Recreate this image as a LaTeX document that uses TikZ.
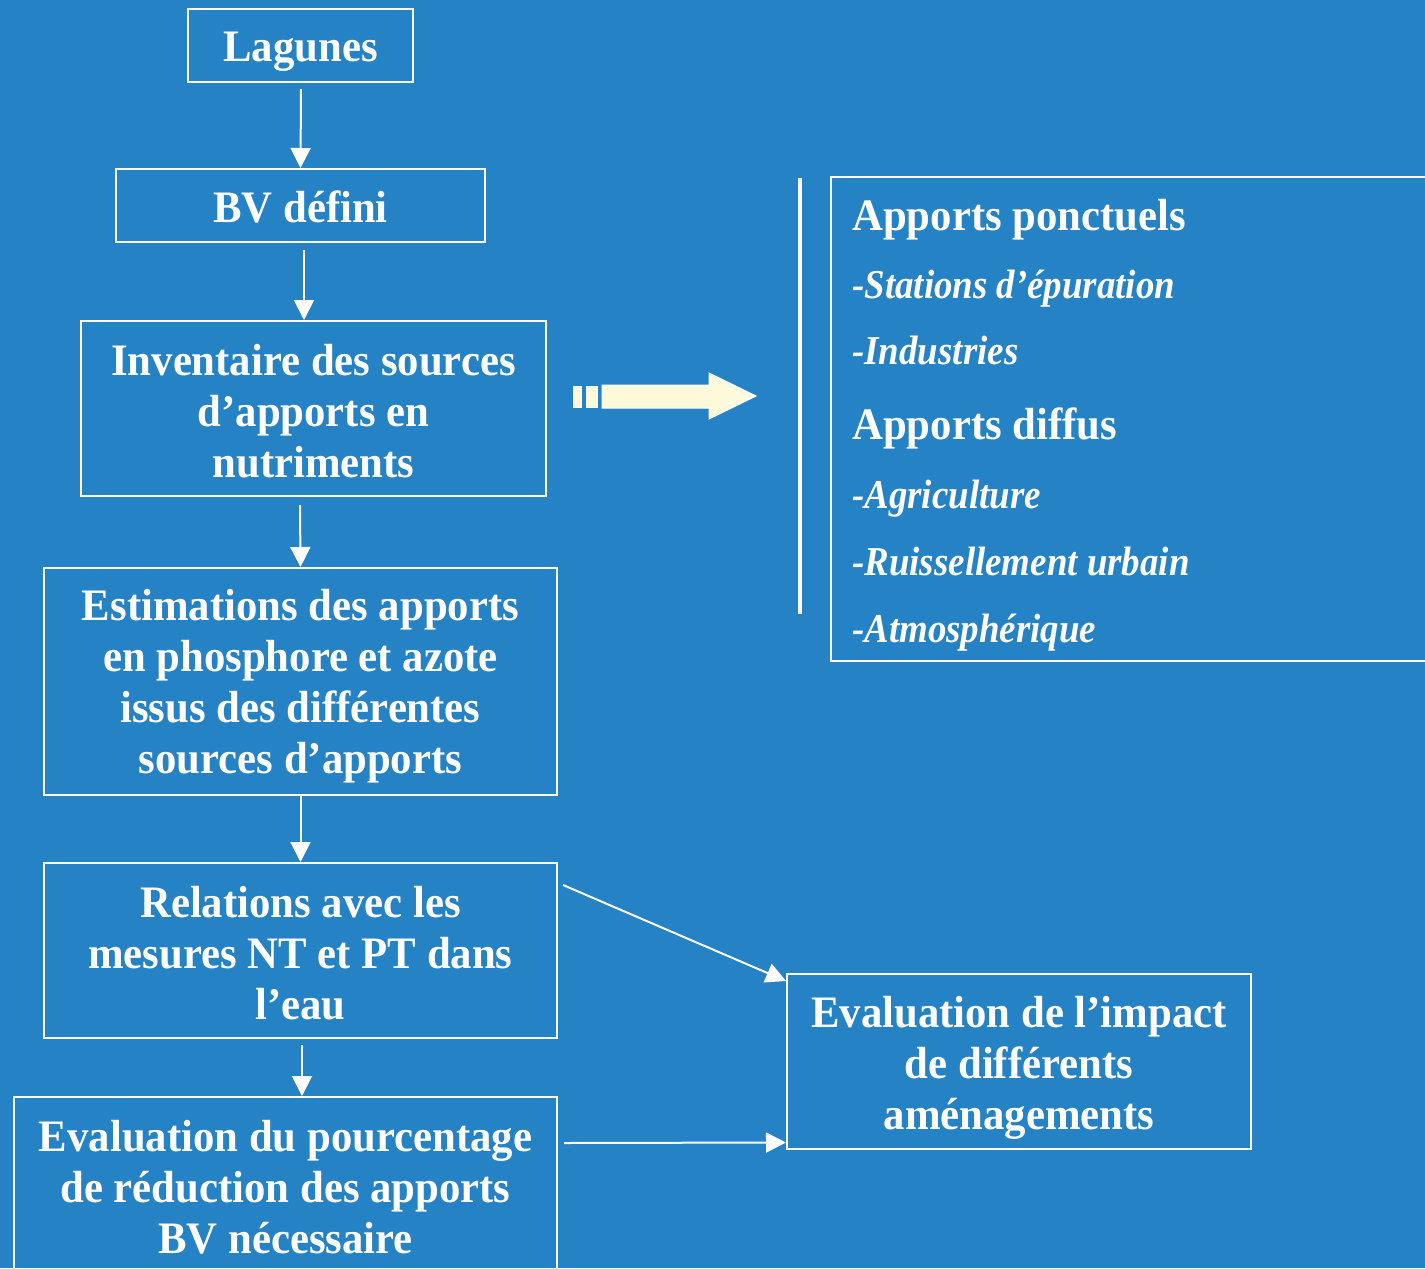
\documentclass[tikz,border=0pt]{standalone}
\usepackage{fontspec}
\setmainfont{Liberation Serif}[FakeStretch=0.95]
\newfontfamily\itemfont{Liberation Serif}[FakeStretch=0.9]
\usetikzlibrary{arrows.meta,calc}
\definecolor{bgblue}{RGB}{37,130,197}
\definecolor{cream}{RGB}{255,249,219}
\tikzset{
  box/.style={draw=white, line width=1.5pt, inner sep=0pt},
  lbl/.style={inner sep=0pt, align=center, text=white,
    font=\fontsize{33.75pt}{38.25pt}\selectfont\bfseries},
  conn/.style={draw=white, line width=1.5pt, -{Triangle[length=15pt,width=15pt]}},
  head/.style={anchor=base west, inner sep=0pt, text=white, font=\fontsize{33.75pt}{38pt}\selectfont\bfseries},
  item/.style={anchor=base west, inner sep=0pt, text=white, font=\itemfont\fontsize{30.75pt}{34pt}\selectfont\bfseries\itshape},
}
\begin{document}
\begin{tikzpicture}[x=0.75pt,y=-0.75pt]
\useasboundingbox (0,0) rectangle (1425,1268);
\clip (0,0) rectangle (1425,1268);
\fill[bgblue] (0,0) rectangle (1425,1268);

\node[box, minimum width=168.75pt, minimum height=54.75pt,
  label={[lbl,yshift=-4.5pt]center:Lagunes}] (lag) at (300.5,45.5) {};
\node[box, minimum width=276.75pt, minimum height=54.75pt,
  label={[lbl,yshift=-0.75pt]center:BV défini}] (bv) at (300.5,205.5) {};
\node[box, minimum width=348.75pt, minimum height=131.25pt,
  label={[lbl,yshift=-2.25pt]center:{Inventaire des sources\\d’apports en\\nutriments}}] (inv) at (313.5,408.5) {};
\node[box, minimum width=384.75pt, minimum height=170.25pt,
  label={[lbl,yshift=-3.75pt]center:{Estimations des apports\\en phosphore et azote\\issus des différentes\\sources d’apports}}] (est) at (300.5,681.5) {};
\node[box, minimum width=384.75pt, minimum height=131.25pt,
  label={[lbl,yshift=-2.25pt]center:{Relations avec les\\mesures NT et PT dans\\l’eau}}] (rel) at (300.5,950.5) {};
\node[box, minimum width=407.25pt, minimum height=132pt,
  label={[lbl,yshift=-1.5pt]center:{Evaluation du pourcentage\\de réduction des apports\\BV nécessaire}}] (eva) at (285.5,1185) {};
\node[box, minimum width=348pt, minimum height=131.25pt,
  label={[lbl,yshift=-4.5pt]center:{Evaluation de l’impact\\de différents\\aménagements}}] (imp) at (1019,1061.5) {};

% right box
\node[box, minimum width=456.75pt, minimum height=363pt] (src) at (1135.5,419) {};
\node[head] (h1) at (852,230) {Apports ponctuels};
\node[item] (i1) at (852,298) {-Stations d’épuration};
\node[item] (i2) at (852,364) {-Industries};
\node[head] (h2) at (852,439) {Apports diffus};
\node[item] (i3) at (852,508) {-Agriculture};
\node[item] (i4) at (852,575) {-Ruissellement urbain};
\node[item] (i5) at (852,642) {-Atmosphérique};

% vertical bar
\draw[white, line width=3pt] (800,178) -- (800,614);

% big block arrow
\filldraw[fill=cream, draw=white, line width=0.75pt] (573,386) rectangle (581,407);
\filldraw[fill=cream, draw=white, line width=0.75pt] (586,386) rectangle (597,407);
\filldraw[fill=cream, draw=white, line width=0.75pt]
  (602,385) -- (709,385) -- (709,373) -- (756,396) -- (709,419) -- (709,408) -- (602,408) -- cycle;

% connectors
\draw[conn] ($(lag.south)+(0.5,6)$) -- (bv.north);
\draw[conn] ($(bv.south)+(3.5,7)$) -- ($(inv.north)+(-9.5,0)$);
\draw[conn] ($(inv.south)+(-13.5,8)$) -- (est.north);
\draw[conn] (est.south) -- (rel.north);
\draw[conn] ($(rel.south)+(1.5,6)$) -- ($(eva.north)+(16.5,0)$);
\draw[conn] ($(rel.north east)+(5,23)$) -- ($(imp.north west)+(0,8)$);
\draw[conn] ($(eva.east)+(6,-42)$) -- ($(imp.south west)+(0,-7.5)$);
\end{tikzpicture}
\end{document}
